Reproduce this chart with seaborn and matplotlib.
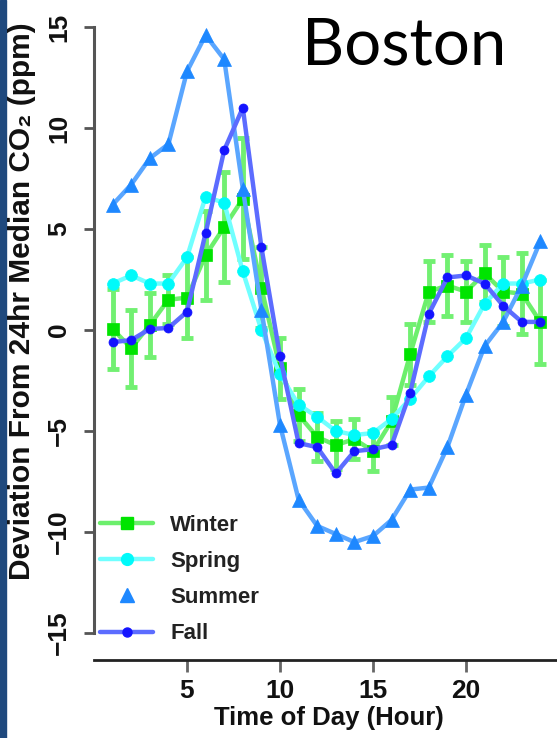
import matplotlib
matplotlib.use("Agg")
import matplotlib.pyplot as plt
from matplotlib.lines import Line2D
from matplotlib.patches import Rectangle
import seaborn as sns
import pandas as pd

# ---- data ----
hours = list(range(1, 25))
winter = [0.05, -0.9, 0.25, 1.5, 1.6, 3.7, 5.1, 6.5, 2.1, -1.9, -4.2, -5.3,
          -5.7, -5.4, -6.0, -4.5, -1.2, 1.9, 2.2, 1.9, 2.8, 1.9, 1.8, 0.4]
winter_err = [2.0, 1.9, 1.6, 1.2, 2.0, 2.2, 2.7, 3.0, 2.0, 1.5, 1.3, 1.2,
              1.2, 1.0, 1.0, 1.2, 1.5, 1.5, 1.5, 1.5, 1.4, 1.7, 2.0, 2.1]
spring = [2.3, 2.7, 2.3, 2.3, 3.6, 6.6, 6.3, 2.9, 0.0, -2.2, -3.7, -4.3,
          -5.0, -5.2, -5.1, -4.4, -3.4, -2.3, -1.3, -0.4, 1.3, 2.3, 2.3, 2.5]
summer = [6.2, 7.2, 8.5, 9.2, 12.8, 14.6, 13.4, 7.0, 1.0, -4.7, -8.4, -9.7,
          -10.1, -10.5, -10.2, -9.4, -7.9, -7.8, -5.8, -3.2, -0.8, 0.4, 2.2, 4.4]
fall = [-0.6, -0.5, 0.05, 0.1, 0.9, 4.8, 8.9, 11.0, 4.1, -1.3, -5.6, -5.8,
        -7.1, -6.0, -5.9, -5.7, -3.1, 0.8, 2.6, 2.7, 2.3, 1.2, 0.4, 0.4]
season_names = ["Winter", "Spring", "Summer", "Fall"]
x_ticks = [5, 10, 15, 20]
y_ticks = [-15, -10, -5, 0, 5, 10, 15]

sns.set_theme(style="white")
plt.rcParams["font.family"] = ["Liberation Sans", "DejaVu Sans"]
plt.rcParams["font.weight"] = "bold"

W, H = 557, 738
fig = plt.figure(figsize=(W / 100, H / 100), dpi=100)
fig.patch.set_facecolor("white")
fig.patches.append(Rectangle((0, 0), 6 / W, 1, transform=fig.transFigure,
                             color="#1F497D", zorder=0))

ax_l, ax_r, ax_t, ax_b = 94, 559, 27, 660
ax = fig.add_axes([ax_l / W, 1 - ax_b / H, (ax_r - ax_l) / W, (ax_b - ax_t) / H])
ax.set_facecolor("none")

styles = {
    "Winter": dict(vals=winter, line="#6CEF6C", mk="#00E400", marker="s", ms=8.5),
    "Spring": dict(vals=spring, line="#70FFFF", mk="#00FAFA", marker="o", ms=8.5),
    "Summer": dict(vals=summer, line="#5AA6FF", mk="#1E88FF", marker="^", ms=10),
    "Fall":   dict(vals=fall,   line="#5C6CFF", mk="#1414FF", marker="o", ms=6.5),
}

# winter error bars
ax.errorbar(hours, winter, yerr=winter_err, fmt="none", ecolor="#72F072",
            elinewidth=3.5, capsize=4.5, capthick=3.5, zorder=2)

for i, name in enumerate(season_names):
    s = styles[name]
    df = pd.DataFrame({"hour": hours, "value": s["vals"]})
    sns.lineplot(data=df, x="hour", y="value", ax=ax, color=s["line"],
                 linewidth=3.2, marker=s["marker"], markersize=s["ms"],
                 markerfacecolor=s["mk"], markeredgecolor=s["mk"],
                 markeredgewidth=0.5, zorder=3 + i, clip_on=False,
                 errorbar=None, legend=False)

ax.set_xlim(0, 25)
ax.set_ylim(-15 - (ax_b - 633) / 20.2, 15)
ax.set_xticks(x_ticks)
ax.set_yticks(y_ticks)
ax.set_xticklabels([str(v) for v in x_ticks])
ax.set_yticklabels([str(v).replace("-", "\u2212") for v in y_ticks])

for sp in ["top", "right"]:
    ax.spines[sp].set_visible(False)
ax.spines["left"].set_bounds(-15, 15)
ax.spines["left"].set_color("#555555")
ax.spines["left"].set_linewidth(2.2)
ax.spines["bottom"].set_bounds(0, 25)
ax.spines["bottom"].set_color("#222222")
ax.spines["bottom"].set_linewidth(2.0)

ax.tick_params(axis="x", length=8.5, width=2, color="#666666", pad=5,
               labelsize=19, labelcolor="#111111", bottom=True)
ax.tick_params(axis="y", length=7.5, width=2, color="#555555", pad=9,
               labelsize=19, labelcolor="#111111", labelrotation=90, left=True)
for lab in ax.get_yticklabels():
    lab.set_va("center")
    lab.set_fontweight("bold")
for lab in ax.get_xticklabels():
    lab.set_fontweight("bold")

ax.set_xlabel("Time of Day (Hour)", fontsize=18.5, fontweight="bold",
              color="#111111")
ax.xaxis.set_label_coords((329 - ax_l) / (ax_r - ax_l), (ax_b - 706) / (ax_b - ax_t))
ax.set_ylabel("")
fig.text(22 / W, 1 - 301 / H, "Deviation From 24hr Median CO\u2082 (ppm)",
         rotation=90, ha="center", va="center", fontsize=21.5,
         fontweight="bold", color="#111111",
         family=["Liberation Sans", "DejaVu Sans"])

# title
fig.text(404 / W, 1 - 46 / H, "Boston", ha="center", va="center",
         fontsize=47, fontweight="normal", color="black",
         family=["Lato", "DejaVu Sans"])

# legend
handles = []
for name in season_names:
    s = styles[name]
    ls = "none" if name == "Summer" else "-"
    handles.append(Line2D([0], [0], color=s["line"], linewidth=3.2, linestyle=ls,
                          marker=s["marker"], markersize=s["ms"],
                          markerfacecolor=s["mk"], markeredgecolor=s["mk"]))
leg = ax.legend(handles, season_names, loc="upper left",
                bbox_to_anchor=(100 / W, 1 - 515 / H),
                bbox_transform=fig.transFigure, frameon=False,
                prop=dict(family="Liberation Sans", weight="bold", size=16),
                handlelength=2.4, handletextpad=0.75, labelspacing=0.68,
                borderpad=0, borderaxespad=0)
for t in leg.get_texts():
    t.set_color("#222222")

fig.savefig("out.png", dpi=100)
